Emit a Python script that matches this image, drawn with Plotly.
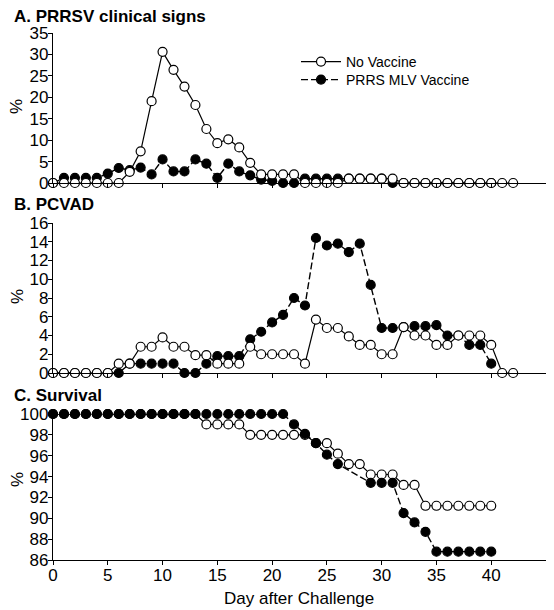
import plotly.graph_objects as go

# ---------------- data ----------------
days_open = list(range(0, 43))
days_vacc = list(range(0, 41))

# A. PRRSV clinical signs (%)
a_no_vaccine = [0, 0, 0, 0, 0, 0, 0, 2.6, 7.4, 19.1, 30.6, 26.4, 22.5, 18.2, 12.6, 9.3, 10.2, 8.3, 4.7,
                2.0, 2.0, 2.0, 2.0, 0, 0, 0, 0, 1.0, 1.0, 1.0, 1.0, 1.0,
                0, 0, 0, 0, 0, 0, 0, 0, 0, 0, 0]
a_vaccine = [0, 1.2, 1.2, 1.2, 1.2, 2.2, 3.5, 3.0, 3.6, 2.0, 5.5, 2.7, 2.7, 5.5, 4.5, 1.2, 4.5, 2.7, 1.8,
             0.8, 0.5, 0, 0, 1.0, 1.0, 1.0, 1.0, 1.0, 1.0, 1.0, 1.0, 0,
             0, 0, 0, 0, 0, 0, 0, 0, 0]

# B. PCVAD (%)
b_no_vaccine = [0, 0, 0, 0, 0, 0, 1.0, 1.0, 2.8, 2.8, 3.8, 2.8, 2.8, 1.9, 1.9, 1.0, 1.0, 1.0, 2.8,
                2.0, 2.0, 2.0, 2.0, 1.0, 5.7, 4.8, 4.8, 3.9, 3.0, 3.0, 2.0, 2.0,
                4.9, 4.0, 4.0, 3.0, 3.0, 4.0, 4.0, 4.0, 3.0, 0, 0]
b_vaccine = [0, 0, 0, 0, 0, 0, 0, 1.0, 1.0, 1.0, 1.0, 1.0, 0, 0, 1.0, 1.8, 1.8, 1.8, 3.6,
             4.4, 5.4, 6.2, 8.0, 7.2, 14.4, 13.6, 13.8, 12.9, 13.8, 9.4, 4.8, 4.8,
             4.9, 5.0, 5.0, 5.1, 4.0, 4.0, 3.0, 3.0, 1.0]

# C. Survival (%)  (vaccine days 27-28 are hidden behind the open symbols in the reference)
c_no_vaccine = [100] * 14 + [99.0, 99.0, 99.0, 99.0, 98.0, 98.0, 98.0, 98.0, 98.0, 98.0,
                             97.2, 97.2, 96.2, 95.2, 95.2, 94.2, 94.2, 94.2, 93.2, 93.2,
                             91.2, 91.2, 91.2, 91.2, 91.2, 91.2, 91.2]
c_vaccine = [100] * 22 + [99.0, 98.1, 97.2, 96.1, 95.2, None, None, 93.4, 93.4, 93.4,
                          90.5, 89.6, 88.7, 86.8, 86.8, 86.8, 86.8, 86.8, 86.8]

x_ticks = [0, 5, 10, 15, 20, 25, 30, 35, 40, 45]

# ---------------- figure ----------------
FONT = "Liberation Sans, Arial, sans-serif"
OFF = 8  # page body margin
fig = go.Figure()


def vacc_trace(xa, ya, vals, show):
    return go.Scatter(
        x=days_vacc[:len(vals)], y=vals, xaxis=xa, yaxis=ya,
        mode="lines+markers", name="PRRS MLV Vaccine", legend="legend2", connectgaps=True,
        line=dict(color="black", width=1.4, dash="7px,3px"),
        marker=dict(symbol="circle", size=9, color="black", line=dict(color="black", width=1.2)),
        cliponaxis=False, showlegend=show)


def open_trace(xa, ya, vals, show):
    return go.Scatter(
        x=days_open[:len(vals)], y=vals, xaxis=xa, yaxis=ya,
        mode="lines+markers", name="No Vaccine", legend="legend",
        line=dict(color="black", width=1.2),
        marker=dict(symbol="circle", size=9, color="white", line=dict(color="black", width=1.2)),
        cliponaxis=False, showlegend=show)


# panels A and B: open symbols on top; panel C: filled symbols on top
fig.add_trace(vacc_trace("x", "y", a_vaccine, True))
fig.add_trace(open_trace("x", "y", a_no_vaccine, True))
fig.add_trace(vacc_trace("x2", "y2", b_vaccine, False))
fig.add_trace(open_trace("x2", "y2", b_no_vaccine, False))
fig.add_trace(open_trace("x3", "y3", c_no_vaccine, False))
fig.add_trace(vacc_trace("x3", "y3", c_vaccine, False))

W, H = 554 - OFF, 610 - OFF
L, R = 53 - OFF, W - (546 - OFF)
T, B = 33 - OFF, H - (560 - OFF)
ph = H - T - B
pw = W - L - R


def py(pix):
    return (H - B - (pix - OFF)) / ph


def px(pix):
    return ((pix - OFF) - L) / pw


common_x = dict(range=[0, 45], tickvals=x_ticks, showline=True, linecolor="black", linewidth=1.3,
                ticks="outside", ticklen=4, tickwidth=1.2, tickcolor="black", showgrid=False,
                zeroline=False, ticklabelstandoff=-5,
                tickfont=dict(family=FONT, size=17, color="black"))
common_y = dict(showline=True, linecolor="black", linewidth=1.3, ticks="outside", ticklen=4,
                tickwidth=1.2, tickcolor="black", showgrid=False, zeroline=False,
                ticklabelstandoff=-4,
                tickfont=dict(family=FONT, size=17, color="black"))

leg_common = dict(xanchor="left", yanchor="middle", bgcolor="rgba(0,0,0,0)",
                  font=dict(family=FONT, size=14, color="black"), itemwidth=40)

fig.update_layout(
    width=W, height=H, margin=dict(l=L, r=R, t=T, b=B),
    paper_bgcolor="white", plot_bgcolor="white",
    font=dict(family=FONT, color="black"),
    xaxis=dict(common_x, domain=[0, 1], anchor="y", showticklabels=False),
    xaxis2=dict(common_x, domain=[0, 1], anchor="y2", showticklabels=False),
    xaxis3=dict(common_x, domain=[0, 1], anchor="y3", showticklabels=True),
    yaxis=dict(common_y, domain=[py(183), 1], anchor="x", range=[0, 35], dtick=5),
    yaxis2=dict(common_y, domain=[py(373), py(223)], anchor="x2", range=[0, 16], dtick=2),
    yaxis3=dict(common_y, domain=[0, py(414)], anchor="x3", range=[86, 100], dtick=2),
    legend=dict(leg_common, x=px(296), y=py(62)),
    legend2=dict(leg_common, x=px(296), y=py(80)),
    showlegend=True,
)

ann = []
for text, ycen in [("A. PRRSV clinical signs", 16), ("B. PCVAD", 204), ("C. Survival", 395)]:
    ann.append(dict(text="<b>" + text + "</b>", xref="paper", yref="paper", x=px(12), y=py(ycen),
                    xanchor="left", yanchor="middle", showarrow=False,
                    font=dict(family=FONT, size=17, color="black")))
for ycen in [107, 297, 480]:
    ann.append(dict(text="%", xref="paper", yref="paper", x=px(17), y=py(ycen), textangle=-90,
                    xanchor="center", yanchor="middle", showarrow=False,
                    font=dict(family=FONT, size=17, color="black")))
ann.append(dict(text="Day after Challenge", xref="paper", yref="paper", x=px(299), y=py(598),
                xanchor="center", yanchor="middle", showarrow=False,
                font=dict(family=FONT, size=17, color="black")))
fig.update_layout(annotations=ann)

fig.write_html("out.html")
